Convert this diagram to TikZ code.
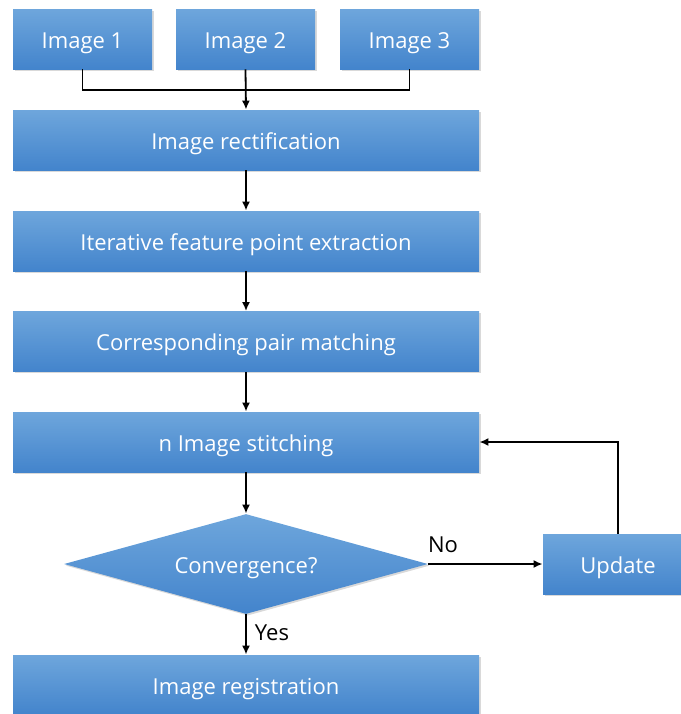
\documentclass[tikz,border=0pt]{standalone}
\usepackage{fontspec}
\setmainfont{Open Sans}
\usetikzlibrary{shapes.geometric,shadows,arrows.meta}

\definecolor{stagetop}{HTML}{6EA6DC}
\definecolor{stagebot}{HTML}{4384CC}

\begin{document}
\begin{tikzpicture}[x=0.5pt, y=-0.5pt]

	\tikzset{
		stage/.style={rectangle, top color=stagetop, bottom color=stagebot, draw=none,
			text=white, font=\fontsize{11}{13}\selectfont, inner sep=0pt,
			text height=9pt, text depth=0pt, minimum height=30pt,
			drop shadow={shadow xshift=0.8pt, shadow yshift=-0.8pt, opacity=0.3}},
		widestage/.style={stage, minimum width=233pt},
		smallstage/.style={stage, minimum width=69.5pt},
		test/.style={stage, diamond, aspect=3.6, minimum width=182pt, minimum height=50pt},
		link/.style={-{Latex[length=4.5pt,width=4pt]}, line width=0.9pt},
		plain/.style={line width=0.9pt},
		tag/.style={font=\fontsize{11}{13}\selectfont, text=black},
	}

	\useasboundingbox (0,0) rectangle (681,714);

	% input images
	\node [smallstage] (img1) at (82.5,39) {Image 1};
	\node [smallstage] (img2) at (245.5,39) {Image 2};
	\node [smallstage] (img3) at (409.5,39) {Image 3};

	% processing chain
	\node [widestage] (rect) at (246,140) {Image rectification};
	\node [widestage] (feat) at (246,241) {Iterative feature point extraction};
	\node [widestage] (pair) at (246,341.5) {Corresponding pair matching};
	\node [widestage] (stitch) at (246,442) {n Image stitching};
	\node [test] (conv) at (246,564) {Convergence?};
	\node [stage, minimum width=75pt] (upd) at (618,564) {Update};
	\node [widestage] (reg) at (246,685) {Image registration};

	\coordinate (join) at (246,90);

	\draw [plain] (img1.south) |- (join) -| (img3.south);
	\draw [link] (img2.south) -- (rect.north);
	\draw [link] (rect) -- (feat);
	\draw [link] (feat) -- (pair);
	\draw [link] (pair) -- (stitch);
	\draw [link] (stitch) -- (conv);
	\draw [link] (conv.east) -- (upd.west);
	\draw [link] (upd.north) |- (stitch.east);
	\draw [link] (conv.south) -- (reg.north);

	\node [tag] (no) at (443,545) {No};
	\node [tag] (yes) at (272,633) {Yes};
\end{tikzpicture}
\end{document}
